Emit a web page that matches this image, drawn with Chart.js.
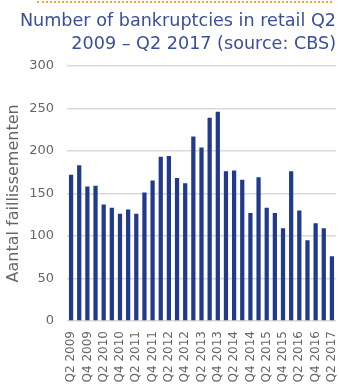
<!DOCTYPE html>
<html>
<head>
<meta charset="utf-8">
<script src="https://cdn.jsdelivr.net/npm/chart.js@4"></script>
<style>
  html, body { margin: 0; padding: 0; background: #ffffff; }
  #wrap { position: relative; width: 339px; height: 389px; }
  #rule { position: absolute; left: 37px; width: 295px; top: 1px; border-top: 2px dotted #F5A33A; }
  canvas { display: block; }
</style>
</head>
<body>
<div id="wrap">
  <div id="rule"></div>
  <canvas id="c" width="339" height="389"></canvas>
</div>
<script>
// Quarterly bankruptcies in retail, Q2 2009 – Q2 2017
const quarters = [
  'Q2 2009','Q3 2009','Q4 2009','Q1 2010','Q2 2010','Q3 2010','Q4 2010','Q1 2011',
  'Q2 2011','Q3 2011','Q4 2011','Q1 2012','Q2 2012','Q3 2012','Q4 2012','Q1 2013',
  'Q2 2013','Q3 2013','Q4 2013','Q1 2014','Q2 2014','Q3 2014','Q4 2014','Q1 2015',
  'Q2 2015','Q3 2015','Q4 2015','Q1 2016','Q2 2016','Q3 2016','Q4 2016','Q1 2017',
  'Q2 2017'
];
const bankruptcies = [
  172, 183, 158, 159, 137, 133, 126, 131,
  126, 151, 165, 193, 194, 168, 162, 217,
  204, 239, 246, 176, 177, 166, 127, 169,
  133, 127, 109, 176, 130, 95, 115, 109,
  76
];
const yTicks = [0, 50, 100, 150, 200, 250, 300];

const titleLines = ['Number of bankruptcies in retail Q2', '2009 \u2013 Q2 2017 (source: CBS)'];
const yTitle = 'Aantal faillissementen';

const FONT = "'DejaVu Sans', sans-serif";

new Chart(document.getElementById('c'), {
  type: 'bar',
  data: {
    labels: quarters,
    datasets: [{
      data: bankruptcies,
      backgroundColor: '#213A8B',
      borderWidth: 0,
      barPercentage: 0.52,
      categoryPercentage: 1.0
    }]
  },
  options: {
    responsive: false,
    animation: false,
    devicePixelRatio: 1,
    layout: { padding: { left: 4, right: 3, top: 7, bottom: 0 } },
    plugins: {
      legend: { display: false },
      tooltip: { enabled: false },
      title: {
        display: true,
        text: titleLines,
        align: 'end',
        color: '#3A4E9E',
        font: { family: FONT, size: 17.6, weight: 'normal', lineHeight: 1.3 },
        padding: { top: 3, bottom: 10 }
      }
    },
    scales: {
      x: {
        grid: { display: false, drawTicks: false },
        border: { display: false },
        afterFit: s => { s.height = 68; s.paddingLeft = 0; s.paddingRight = 0; },
        ticks: {
          autoSkip: false,
          minRotation: 90,
          maxRotation: 90,
          padding: 10,
          color: '#666666',
          font: { family: FONT, size: 12 },
          callback: (v, i) => (i % 2 === 0 ? quarters[i] : '')
        }
      },
      y: {
        min: 0,
        max: 300,
        afterBuildTicks: axis => { axis.ticks = yTicks.map(v => ({ value: v })); },
        afterFit: s => { s.width = 63; },
        grid: { color: '#D9D9D9', lineWidth: 1.5, drawTicks: false },
        border: { display: false },
        ticks: {
          padding: 13,
          color: '#666666',
          font: { family: FONT, size: 13 }
        },
        title: {
          display: true,
          text: yTitle,
          color: '#666666',
          font: { family: FONT, size: 16 },
          padding: { top: 0, bottom: 0 }
        }
      }
    }
  }
});
</script>
</body>
</html>
